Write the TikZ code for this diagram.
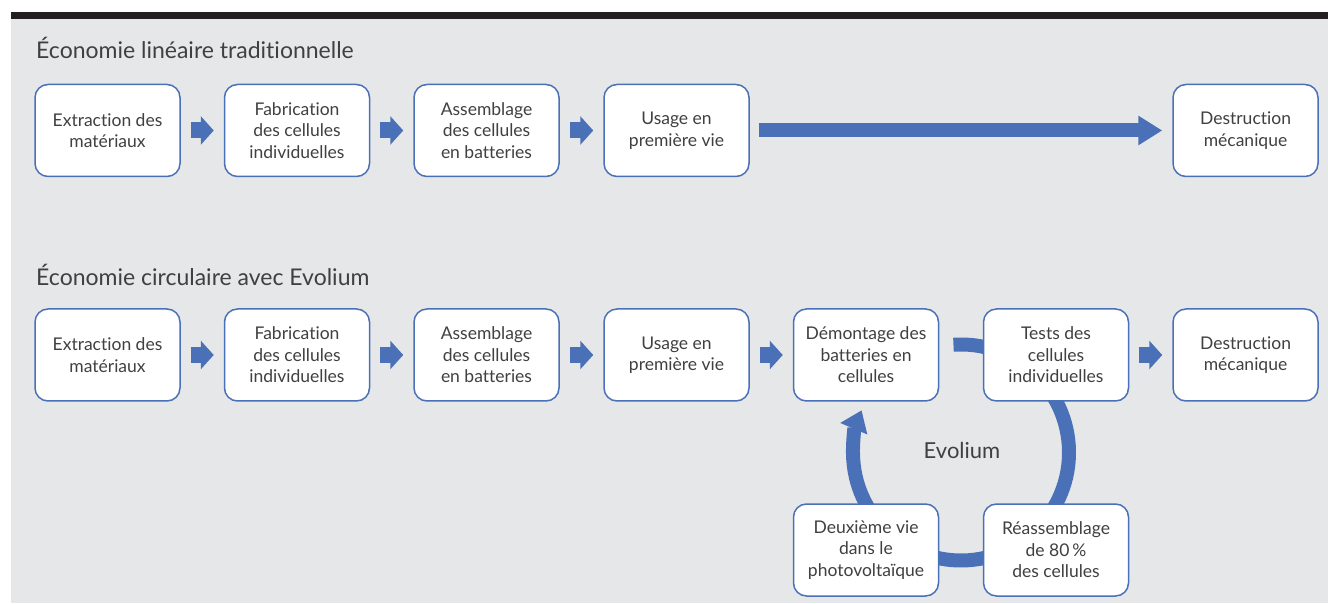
\documentclass[tikz,border=0pt]{standalone}
\usepackage{fontspec}
\setmainfont{Lato}[Ligatures={NoCommon}]
\usetikzlibrary{arrows.meta,backgrounds,calc}
\definecolor{bgray}{HTML}{E6E7E8}
\definecolor{barc}{HTML}{231F20}
\definecolor{blu}{HTML}{4A70B8}
\definecolor{txt}{HTML}{404040}
\tikzset{
  box/.style={draw=blu, line width=1.5pt, fill=white, rounded corners=13pt,
    minimum width=145pt, minimum height=92pt, inner sep=2pt, align=center,
    text=txt, font=\fontsize{17.5pt}{21.5pt}\selectfont},
  title/.style={anchor=base west, inner sep=0pt, text=txt, font=\fontsize{23pt}{26pt}\selectfont},
  smallarrow/.style={draw=blu, line width=16pt, -{Triangle[width=28pt,length=13pt]}, shorten <=10pt, shorten >=10pt},
  longarrow/.style={draw=blu, line width=14pt, -{Triangle[width=28pt,length=24pt]}},
  ring/.style={draw=blu, line width=14pt, -{Triangle[width=28pt,length=20pt]}}
}
\begin{document}
\begin{tikzpicture}[x=1pt,y=1pt]
\useasboundingbox (0,0) rectangle (1328,603);

\node[title] (t1) at (36,544) {Économie linéaire traditionnelle};
\node[title] (t2) at (36,317) {Économie circulaire avec Evolium};

% row 1
\node[box] (a1) at (107.5,472.5) {Extraction des\\matériaux};
\node[box] (a2) at (297,472.5) {Fabrication\\des cellules\\individuelles};
\node[box] (a3) at (486.5,472.5) {Assemblage\\des cellules\\en batteries};
\node[box] (a4) at (676.5,472.5) {Usage en\\première vie};
\node[box] (a5) at (1245.5,472.5) {Destruction\\mécanique};

% row 2
\node[box] (b1) at (107.5,248) {Extraction des\\matériaux};
\node[box] (b2) at (297,248) {Fabrication\\des cellules\\individuelles};
\node[box] (b3) at (486.5,248) {Assemblage\\des cellules\\en batteries};
\node[box] (b4) at (676.5,248) {Usage en\\première vie};
\node[box] (b5) at (866,248) {Démontage des\\batteries en\\cellules};
\node[box] (b6) at (1056,248) {Tests des\\cellules\\individuelles};
\node[box] (b7) at (1245.5,248) {Destruction\\mécanique};

% loop boxes
\node[box] (c1) at (866,53) {Deuxième vie\\dans le\\photovoltaïque};
\node[box] (c2) at (1056,53) {Réassemblage\\de 80\,\%\\des cellules};

\coordinate (ctr) at ($(b5.center)!0.5!(c2.center)$);
\node[text=txt, font=\fontsize{22pt}{24pt}\selectfont, inner sep=0pt] (evo) at ($(ctr)+(1,2)$) {Evolium};

% arrows row 1
\draw[smallarrow] (a1.east) -- (a2.west);
\draw[smallarrow] (a2.east) -- (a3.west);
\draw[smallarrow] (a3.east) -- (a4.west);
\draw[longarrow] ([xshift=9pt]a4.east) -- ([xshift=-10pt]a5.west);

% arrows row 2
\draw[smallarrow] (b1.east) -- (b2.west);
\draw[smallarrow] (b2.east) -- (b3.west);
\draw[smallarrow] (b3.east) -- (b4.west);
\draw[smallarrow] (b4.east) -- (b5.west);
\draw[smallarrow] (b6.east) -- (b7.west);

% background and ring
\begin{pgfonlayer}{background}
\fill[white] (0,0) rectangle (1328,603);
\fill[bgray] (11,0) rectangle (1328,584);
\fill[barc] (11,584) rectangle (1328,591);
\draw[ring] (ctr) ++(94:108) arc[start angle=94, end angle=-203, radius=108];
\end{pgfonlayer}
\end{tikzpicture}
\end{document}
